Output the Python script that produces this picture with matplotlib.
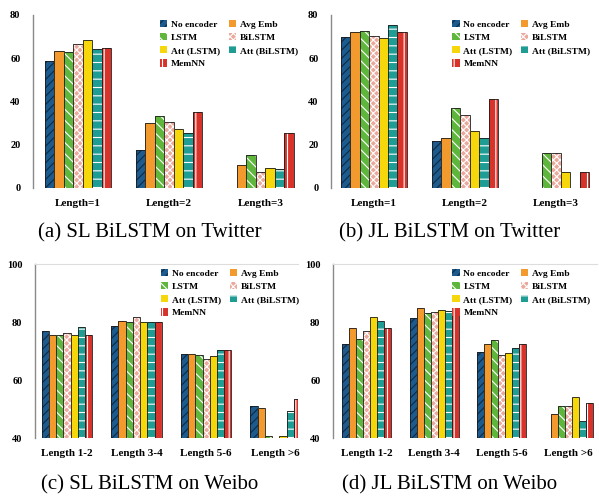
import numpy as np
import matplotlib
matplotlib.use("Agg")
import matplotlib.pyplot as plt
from matplotlib.patches import Patch

plt.rcParams['font.family'] = ['Liberation Serif', 'DejaVu Serif']
plt.rcParams['hatch.linewidth'] = 0.8

methods = ["No encoder", "Avg Emb", "LSTM", "BiLSTM", "Att (LSTM)", "Att (BiLSTM)", "MemNN"]
colors = ["#1d5a8e", "#f39a2e", "#5fb63c", "#eaa99c", "#f6d70c", "#1f9d95", "#d8332b"]
hatch_colors = ["#0c2a45", "#f39a2e", "white", "white", "#f6d70c", "white", "white"]
hatches = ["////", "", "\\\\\\", "xxxxx", "", "--", "||"]

cats_tw = ["Length=1", "Length=2", "Length=3"]
cats_wb = ["Length 1-2", "Length 3-4", "Length 5-6", "Length >6"]

nan = np.nan
# rows: methods, cols: categories
a_vals = [[58.9, 17.7, nan], [63.5, 30.1, 10.5], [62.8, 33.3, 15.4], [66.5, 30.7, 7.5],
          [68.5, 27.2, 9.3], [64.2, 25.4, 9.0], [64.7, 35.0, 25.4]]
b_vals = [[69.7, 21.9, nan], [72.3, 23.1, nan], [72.8, 37.2, 16.1], [70.5, 33.7, 16.1],
          [69.3, 26.2, 7.6], [75.4, 23.1, nan], [72.3, 41.0, 7.6]]
c_vals = [[76.8, 78.6, 68.8, 51.1], [75.5, 80.3, 68.8, 50.5], [75.4, 80.0, 68.5, 40.8],
          [76.1, 81.7, 67.1, nan], [75.5, 80.0, 68.2, 40.8], [78.2, 80.0, 70.2, 49.2],
          [75.5, 80.0, 70.2, 53.3]]
d_vals = [[72.4, 81.4, 69.8, nan], [77.8, 85.0, 72.4, 48.4], [74.3, 83.0, 73.8, 51.0],
          [76.9, 83.6, 68.5, 51.0], [81.8, 84.1, 69.2, 54.2], [80.2, 83.8, 71.2, 45.7],
          [77.8, 85.0, 72.4, 51.9]]

captions = ["(a) SL BiLSTM on Twitter", "(b) JL BiLSTM on Twitter",
            "(c) SL BiLSTM on Weibo", "(d) JL BiLSTM on Weibo"]

W, H = 599, 499
fig = plt.figure(figsize=(W / 100, H / 100), dpi=100)

def ax_rect(x0, y_top, x1, y_bot):
    return [x0 / W, 1 - y_bot / H, (x1 - x0) / W, (y_bot - y_top) / H]

panels = [
    (ax_rect(33, 15, 297, 188), a_vals, cats_tw, (0, 80), [0, 20, 40, 60, 80], (-0.49, 2.40), False, 1.03),
    (ax_rect(331, 15, 597, 188), b_vals, cats_tw, (0, 80), [0, 20, 40, 60, 80], (-0.47, 2.45), False, 1.0),
    (ax_rect(35, 264, 298, 438), c_vals, cats_wb, (40, 100), [40, 60, 80, 100], (-0.46, 3.32), True, 1.03),
    (ax_rect(333, 264, 597, 438), d_vals, cats_wb, (40, 100), [40, 60, 80, 100], (-0.50, 3.42), True, 1.0),
]

bw = 0.104
for (rect, vals, cats, ylim, yt, xlim, topline, lx), cap, cx in zip(
        panels, captions, [150, 450, 150, 450]):
    ax = fig.add_axes(rect)
    x = np.arange(len(cats))
    n = len(methods)
    for i, m in enumerate(methods):
        off = (i - (n - 1) / 2) * bw
        v = np.array(vals[i], dtype=float)
        ax.bar(x + off, v, bw, color=colors[i], edgecolor=hatch_colors[i],
               hatch=hatches[i], linewidth=0)
        ax.bar(x + off, v, bw, fill=False, edgecolor="#1a1a1a", linewidth=0.6)
    ax.set_ylim(*ylim)
    ax.set_xlim(*xlim)
    ax.set_yticks(yt)
    ax.set_xticks(x)
    ax.set_xticklabels(cats, fontsize=8, fontweight='bold')
    ax.tick_params(axis='y', length=0, pad=9, labelsize=7.5)
    ax.tick_params(axis='x', length=0, pad=8)
    for lab in ax.get_yticklabels():
        lab.set_fontweight('bold')
    for s in ['right', 'bottom']:
        ax.spines[s].set_visible(False)
    ax.spines['left'].set_color('#8a8a8a')
    ax.spines['left'].set_linewidth(1.0)
    if topline:
        ax.spines['top'].set_color('#dddddd')
        ax.spines['top'].set_linewidth(0.8)
    else:
        ax.spines['top'].set_visible(False)
    order = [0, 2, 4, 6, 1, 3, 5]
    handles = [Patch(facecolor=colors[k], edgecolor=hatch_colors[k], hatch=hatches[k],
                     linewidth=0) for k in order]
    labels = [methods[k] for k in order]
    ax.legend(handles, labels, ncol=2, loc='upper right', bbox_to_anchor=(lx, 1.01),
              frameon=False, prop={'size': 6.8, 'weight': 'bold'},
              handlelength=0.8, handleheight=0.8, handletextpad=0.4,
              columnspacing=0.9, labelspacing=0.45, borderpad=0.2)
    ycap = 233 if cats is cats_tw else 485
    fig.text(cx / W, 1 - ycap / H, cap, ha='center', va='center', fontsize=15)

fig.savefig("out.png", dpi=100)
